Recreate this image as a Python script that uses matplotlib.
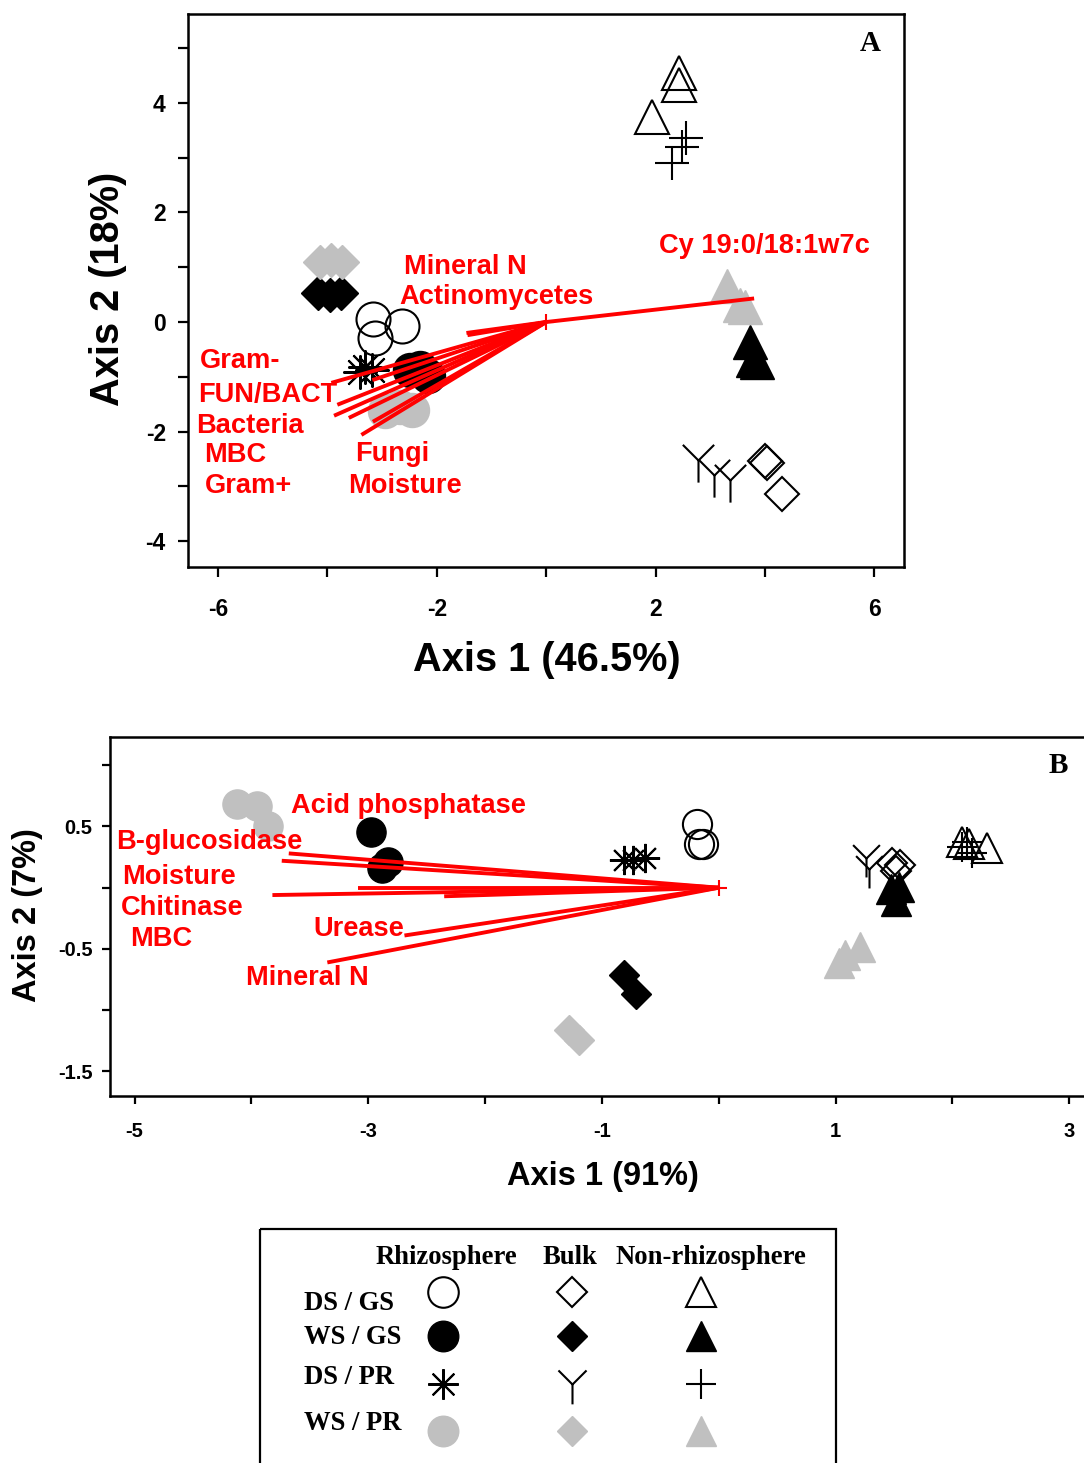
import matplotlib
matplotlib.use("Agg")
import matplotlib.pyplot as plt
from matplotlib.path import Path
from matplotlib.patches import Rectangle

plt.rcParams['font.family'] = ['Liberation Sans', 'DejaVu Sans']
SERIF = ['Liberation Serif', 'DejaVu Serif']

GRAY = '#c0c0c0'
RED = '#ff0000'

# ---------------- Panel A: PLFA ordination ----------------
# sample scores per treatment / soil compartment
a_rhizo_dsgs_x = [-3.17, -2.63, -3.13]
a_rhizo_dsgs_y = [0.05, -0.07, -0.30]
a_rhizo_wsgs_x = [-2.50, -2.30, -2.16]
a_rhizo_wsgs_y = [-0.88, -0.84, -0.99]
a_rhizo_dspr_x = [-3.31, -3.19, -3.40]
a_rhizo_dspr_y = [-0.82, -0.88, -0.91]
a_rhizo_wspr_x = [-2.94, -2.68, -2.45]
a_rhizo_wspr_y = [-1.62, -1.55, -1.60]

a_bulk_dsgs_x = [3.99, 4.04, 4.31]
a_bulk_dsgs_y = [-2.53, -2.57, -3.13]
a_bulk_wsgs_x = [-4.17, -3.95, -3.75]
a_bulk_wsgs_y = [0.53, 0.49, 0.53]
a_bulk_dspr_x = [2.78, 3.06, 3.36]
a_bulk_dspr_y = [-2.51, -2.79, -2.88]
a_bulk_wspr_x = [-4.13, -3.93, -3.73]
a_bulk_wspr_y = [1.09, 1.13, 1.09]

a_non_dsgs_x = [2.43, 2.43, 1.94]
a_non_dsgs_y = [4.54, 4.32, 3.74]
a_non_wsgs_x = [3.73, 3.78, 3.86]
a_non_wsgs_y = [-0.36, -0.69, -0.73]
a_non_dspr_x = [2.55, 2.48, 2.29]
a_non_dspr_y = [3.35, 3.20, 2.90]
a_non_wspr_x = [3.31, 3.55, 3.64]
a_non_wspr_y = [0.66, 0.31, 0.27]

# environmental / community vectors (end points)
a_vec_names = ['Cy 19:0/18:1w7c', 'Mineral N', 'Actinomycetes', 'Gram-', 'FUN/BACT',
               'Bacteria', 'MBC', 'Gram+', 'Fungi', 'Moisture']
a_vec_x = [3.80, -1.44, -1.46, -3.93, -3.82, -3.88, -3.61, -3.18, -3.17, -3.38]
a_vec_y = [0.43, -0.24, -0.20, -1.11, -1.51, -1.71, -1.75, -1.06, -1.82, -2.06]
# label anchor (left edge, vertical centre) for each vector name
a_lab_x = [2.07, -2.61, -2.69, -6.33, -6.36, -6.40, -6.25, -6.25, -3.49, -3.62]
a_lab_y = [1.39, 1.00, 0.46, -0.71, -1.33, -1.90, -2.43, -2.99, -2.41, -2.99]

# ---------------- Panel B: enzyme ordination ----------------
b_rhizo_dsgs_x = [-0.19, -0.165, -0.135]
b_rhizo_dsgs_y = [0.52, 0.36, 0.355]
b_rhizo_wsgs_x = [-2.98, -2.83, -2.88]
b_rhizo_wsgs_y = [0.455, 0.21, 0.16]
b_rhizo_dspr_x = [-0.815, -0.73, -0.63]
b_rhizo_dspr_y = [0.225, 0.23, 0.246]
b_rhizo_wspr_x = [-4.125, -3.95, -3.855]
b_rhizo_wspr_y = [0.68, 0.67, 0.50]

b_bulk_dsgs_x = [1.48, 1.55, 1.52]
b_bulk_dsgs_y = [0.20, 0.185, 0.14]
b_bulk_wsgs_x = [-0.815, -0.706]
b_bulk_wsgs_y = [-0.714, -0.869]
b_bulk_dspr_x = [1.264, 1.29]
b_bulk_dspr_y = [0.241, 0.15]
b_bulk_wspr_x = [-1.28, -1.20]
b_bulk_wspr_y = [-1.16, -1.24]

b_non_dsgs_x = [2.08, 2.14, 2.296]
b_non_dsgs_y = [0.374, 0.36, 0.328]
b_non_wsgs_x = [1.47, 1.54, 1.52]
b_non_wsgs_y = [-0.01, 0.005, -0.11]
b_non_dspr_x = [2.08, 2.125, 2.17]
b_non_dspr_y = [0.333, 0.374, 0.28]
b_non_wspr_x = [1.205, 1.083, 1.026]
b_non_wspr_y = [-0.483, -0.549, -0.614]

b_vec_names = ['Acid phosphatase', 'B-glucosidase', 'Moisture', 'Chitinase', 'MBC',
               'Urease', 'Mineral N']
b_vec_x = [-3.74, -3.68, -3.82, -3.09, -2.35, -2.69, -3.35]
b_vec_y = [0.22, 0.28, -0.06, 0.0, -0.07, -0.39, -0.61]
b_lab_x = [-3.66, -5.16, -5.11, -5.12, -5.04, -3.47, -4.05]
b_lab_y = [0.665, 0.37, 0.086, -0.167, -0.42, -0.34, -0.74]

# ---------------- marker styles ----------------
Y_MARKER = Path([(0, 0), (-0.707, 0.707), (0, 0), (0.707, 0.707), (0, 0), (0, -1)],
                [Path.MOVETO, Path.LINETO, Path.MOVETO, Path.LINETO, Path.MOVETO, Path.LINETO])
ASTERISK = (8, 2, 0)

treatments = ['DS / GS', 'WS / GS', 'DS / PR', 'WS / PR']
zones = ['Rhizosphere', 'Bulk', 'Non-rhizosphere']


def style(zone, treat, base):
    """Return plot kwargs for one treatment/compartment combination."""
    shape = {'Rhizosphere': 'o', 'Bulk': 'D', 'Non-rhizosphere': '^'}[zone]
    scale = 1 / 1.414 if shape == 'D' else 1.0
    if treat == 'DS / GS':
        return dict(marker=shape, ms=base * scale, mfc='none', mec='black', mew=1.5)
    if treat == 'WS / GS':
        return dict(marker=shape, ms=base * scale, mfc='black', mec='black', mew=1.0)
    if treat == 'WS / PR':
        return dict(marker=shape, ms=base * scale, mfc=GRAY, mec=GRAY, mew=1.0)
    line_marker = {'Rhizosphere': ASTERISK, 'Bulk': Y_MARKER, 'Non-rhizosphere': '+'}[zone]
    size = base * 1.3 if zone == 'Bulk' else base
    return dict(marker=line_marker, ms=size, mec='black', mew=1.5)


def draw_groups(ax, groups, base):
    for (zone, treat), (xs, ys) in groups.items():
        ax.plot(xs, ys, linestyle='none', zorder=3, **style(zone, treat, base))


def draw_vectors(ax, vx, vy, names, lx, ly, fs):
    for x, y in zip(vx, vy):
        ax.plot([0, x], [0, y], color=RED, lw=2.8, solid_capstyle='butt', zorder=4)
    ax.plot([0], [0], marker='+', ms=11, mec=RED, mew=1.5, zorder=5)
    for name, x, y in zip(names, lx, ly):
        ax.text(x, y, name, color=RED, fontsize=fs, fontweight='bold',
                ha='left', va='center', zorder=6)


def style_axes(ax, tick_len, pad_x, pad_y, tick_fs):
    for sp in ax.spines.values():
        sp.set_linewidth(1.8)
    ax.tick_params(direction='out', length=tick_len, width=1.6,
                   labelsize=tick_fs)
    ax.tick_params(axis='x', pad=pad_x)
    ax.tick_params(axis='y', pad=pad_y)
    for lab in ax.get_xticklabels() + ax.get_yticklabels():
        lab.set_fontweight('bold')


fig = plt.figure(figsize=(10.84, 14.63), dpi=100)
W, H = 1084.0, 1463.0

# ---- panel A
axA = fig.add_axes([188 / W, 1 - 567 / H, 716 / W, 553 / H])
groupsA = {
    ('Rhizosphere', 'DS / GS'): (a_rhizo_dsgs_x, a_rhizo_dsgs_y),
    ('Rhizosphere', 'WS / GS'): (a_rhizo_wsgs_x, a_rhizo_wsgs_y),
    ('Rhizosphere', 'DS / PR'): (a_rhizo_dspr_x, a_rhizo_dspr_y),
    ('Rhizosphere', 'WS / PR'): (a_rhizo_wspr_x, a_rhizo_wspr_y),
    ('Bulk', 'DS / GS'): (a_bulk_dsgs_x, a_bulk_dsgs_y),
    ('Bulk', 'WS / GS'): (a_bulk_wsgs_x, a_bulk_wsgs_y),
    ('Bulk', 'DS / PR'): (a_bulk_dspr_x, a_bulk_dspr_y),
    ('Bulk', 'WS / PR'): (a_bulk_wspr_x, a_bulk_wspr_y),
    ('Non-rhizosphere', 'DS / GS'): (a_non_dsgs_x, a_non_dsgs_y),
    ('Non-rhizosphere', 'WS / GS'): (a_non_wsgs_x, a_non_wsgs_y),
    ('Non-rhizosphere', 'DS / PR'): (a_non_dspr_x, a_non_dspr_y),
    ('Non-rhizosphere', 'WS / PR'): (a_non_wspr_x, a_non_wspr_y),
}
draw_groups(axA, groupsA, 24.5)
draw_vectors(axA, a_vec_x, a_vec_y, a_vec_names, a_lab_x, a_lab_y, 19.6)
axA.set_xlim(-6.55, 6.54)
axA.set_ylim(-4.47, 5.62)
axA.set_xticks([-6, -4, -2, 0, 2, 4, 6])
axA.set_xticklabels(['-6', '', '-2', '', '2', '', '6'])
axA.set_yticks([-4, -3, -2, -1, 0, 1, 2, 3, 4, 5])
axA.set_yticklabels(['-4', '', '-2', '', '0', '', '2', '', '4', ''])
style_axes(axA, 7, 15, 9, 16.5)
axA.set_xlabel('Axis 1 (46.5%)', fontsize=28.6, fontweight='bold', va='center')
axA.xaxis.set_label_coords(0.501, -0.168)
axA.set_ylabel('Axis 2 (18%)', fontsize=28.6, fontweight='bold', va='center')
axA.yaxis.set_label_coords(-0.112, 0.503)
axA.text(0.953, 0.947, 'A', transform=axA.transAxes, family=SERIF,
         fontsize=21, fontweight='bold', ha='center', va='center')

# ---- panel B
axB = fig.add_axes([110 / W, 1 - 1096 / H, 985 / W, 359 / H])
groupsB = {
    ('Rhizosphere', 'DS / GS'): (b_rhizo_dsgs_x, b_rhizo_dsgs_y),
    ('Rhizosphere', 'WS / GS'): (b_rhizo_wsgs_x, b_rhizo_wsgs_y),
    ('Rhizosphere', 'DS / PR'): (b_rhizo_dspr_x, b_rhizo_dspr_y),
    ('Rhizosphere', 'WS / PR'): (b_rhizo_wspr_x, b_rhizo_wspr_y),
    ('Bulk', 'DS / GS'): (b_bulk_dsgs_x, b_bulk_dsgs_y),
    ('Bulk', 'WS / GS'): (b_bulk_wsgs_x, b_bulk_wsgs_y),
    ('Bulk', 'DS / PR'): (b_bulk_dspr_x, b_bulk_dspr_y),
    ('Bulk', 'WS / PR'): (b_bulk_wspr_x, b_bulk_wspr_y),
    ('Non-rhizosphere', 'DS / GS'): (b_non_dsgs_x, b_non_dsgs_y),
    ('Non-rhizosphere', 'WS / GS'): (b_non_wsgs_x, b_non_wsgs_y),
    ('Non-rhizosphere', 'DS / PR'): (b_non_dspr_x, b_non_dspr_y),
    ('Non-rhizosphere', 'WS / PR'): (b_non_wspr_x, b_non_wspr_y),
}
draw_groups(axB, groupsB, 21)
draw_vectors(axB, b_vec_x, b_vec_y, b_vec_names, b_lab_x, b_lab_y, 19.6)
axB.set_xlim(-5.21, 3.22)
axB.set_ylim(-1.70, 1.23)
axB.set_xticks([-5, -4, -3, -2, -1, 0, 1, 2, 3])
axB.set_xticklabels(['-5', '', '-3', '', '-1', '', '1', '', '3'])
axB.set_yticks([-1.5, -1.0, -0.5, 0.0, 0.5, 1.0])
axB.set_yticklabels(['-1.5', '', '-0.5', '', '0.5', ''])
style_axes(axB, 5.5, 13, 7, 14.5)
axB.set_xlabel('Axis 1 (91%)', fontsize=23.5, fontweight='bold', va='center')
axB.xaxis.set_label_coords(0.5005, -0.223)
axB.set_ylabel('Axis 2 (7%)', fontsize=23.5, fontweight='bold', va='center')
axB.yaxis.set_label_coords(-0.084, 0.504)
axB.text(0.963, 0.92, 'B', transform=axB.transAxes, family=SERIF,
         fontsize=21, fontweight='bold', ha='center', va='center')

# ---- symbol key (pixel-based overlay)
axK = fig.add_axes([0, 0, 1, 1], zorder=-1)
axK.set_xlim(0, W)
axK.set_ylim(H, 0)
axK.axis('off')
axK.add_patch(Rectangle((260, 1229), 576, 260, fill=False, lw=1.6, ec='black'))
key_col_x = [443, 572, 701]
key_head_x = [446, 570, 711]
key_head_y = 1257
key_row_y = [1292, 1336, 1384, 1431]
key_text_y = [1303, 1337, 1377, 1424]
key_text_x = 304
for zx, z in zip(key_head_x, zones):
    axK.text(zx, key_head_y, z, family=SERIF, fontsize=19.2, fontweight='bold',
             ha='center', va='center')
for ty, ry, t in zip(key_text_y, key_row_y, treatments):
    axK.text(key_text_x, ty, t, family=SERIF, fontsize=19.2, fontweight='bold',
             ha='left', va='center')
    for cx, z in zip(key_col_x, zones):
        axK.plot([cx], [ry], linestyle='none', **style(z, t, 22))

fig.savefig('out.png', dpi=100)
